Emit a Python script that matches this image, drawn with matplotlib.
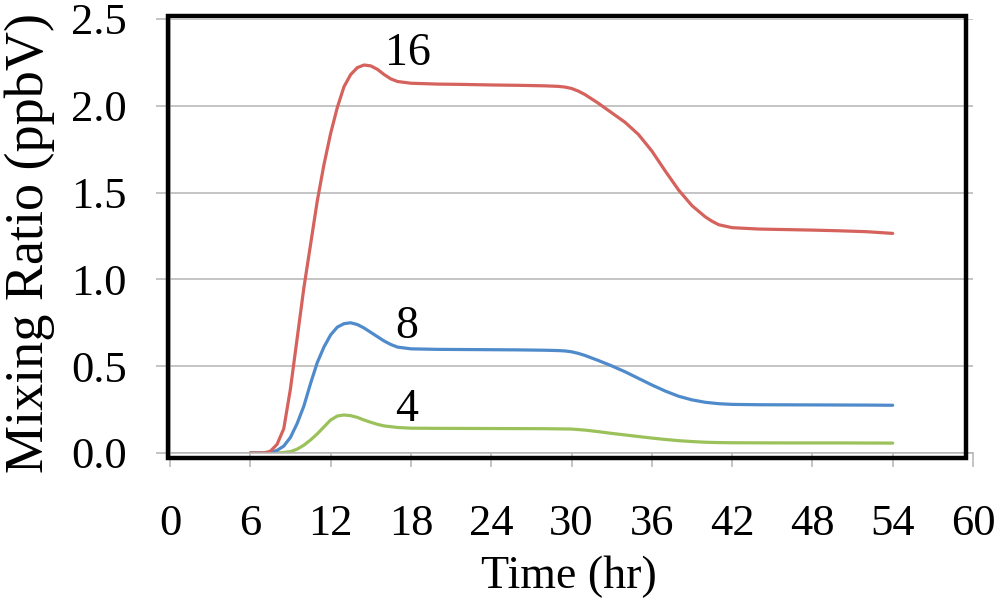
import matplotlib
matplotlib.use("Agg")
import matplotlib.pyplot as plt
from matplotlib.patches import Rectangle

# values (time in hr, mixing ratio in ppbV)
t_16 = [6, 7, 7.5, 8, 8.5, 9, 9.5, 10, 10.5, 11, 11.5, 12, 12.5, 13, 13.5, 14, 14.5, 15,
        15.5, 16, 16.5, 17, 18, 20, 22, 24, 26, 28, 29, 29.5, 30, 30.5, 31, 32, 33, 34,
        35, 36, 37, 38, 39, 40, 40.5, 41, 42, 44, 46, 48, 50, 52, 53, 54]
v_16 = [0.0, 0.0, 0.01, 0.05, 0.14, 0.37, 0.66, 0.95, 1.2, 1.45, 1.66, 1.84, 1.99, 2.11,
        2.18, 2.22, 2.235, 2.23, 2.21, 2.18, 2.155, 2.14, 2.13, 2.125, 2.123, 2.12, 2.118,
        2.115, 2.112, 2.108, 2.10, 2.085, 2.065, 2.015, 1.96, 1.905, 1.835, 1.74, 1.625,
        1.515, 1.425, 1.36, 1.335, 1.315, 1.298, 1.29, 1.287, 1.284, 1.28, 1.275, 1.27,
        1.265]

t_8 = [6, 7, 7.5, 8, 8.5, 9, 9.5, 10, 10.5, 11, 11.5, 12, 12.5, 13, 13.5, 14, 14.5, 15,
       15.5, 16, 16.5, 17, 18, 20, 22, 24, 26, 28, 29, 29.5, 30, 30.5, 31, 32, 33, 34, 35,
       36, 37, 38, 39, 40, 41, 42, 44, 48, 52, 54]
v_8 = [0.0, 0.0, 0.003, 0.015, 0.04, 0.09, 0.17, 0.27, 0.40, 0.52, 0.61, 0.68, 0.725,
       0.745, 0.75, 0.74, 0.72, 0.695, 0.67, 0.645, 0.625, 0.61, 0.60, 0.597, 0.596, 0.595,
       0.594, 0.592, 0.59, 0.588, 0.583, 0.574, 0.562, 0.533, 0.502, 0.468, 0.43, 0.392,
       0.357, 0.327, 0.306, 0.292, 0.284, 0.28, 0.278, 0.277, 0.276, 0.275]

t_4 = [6, 8, 8.5, 9, 9.5, 10, 10.5, 11, 11.5, 12, 12.5, 13, 13.5, 14, 14.5, 15, 15.5, 16,
       17, 18, 20, 24, 28, 30, 31, 32, 33, 34, 35, 36, 37, 38, 39, 40, 41, 42, 46, 50, 54]
v_4 = [0.0, 0.0, 0.003, 0.008, 0.022, 0.045, 0.075, 0.11, 0.15, 0.19, 0.213, 0.219, 0.215,
       0.205, 0.19, 0.177, 0.165, 0.156, 0.147, 0.143, 0.142, 0.141, 0.14, 0.138, 0.132,
       0.123, 0.113, 0.104, 0.095, 0.086, 0.078, 0.071, 0.066, 0.062, 0.06, 0.059, 0.058,
       0.058, 0.057]

x_ticks = [0, 6, 12, 18, 24, 30, 36, 42, 48, 54, 60]
y_ticks = [0.0, 0.5, 1.0, 1.5, 2.0, 2.5]

labels = ["16", "8", "4"]
label_pos = [(17.8, 2.30), (17.7, 0.725), (17.7, 0.25)]

RED = "#D5625C"
BLUE = "#4F8ACB"
GREEN = "#9BC25A"
GRID = "#B4B4B4"

plt.rcParams["font.family"] = ["Liberation Serif", "DejaVu Serif"]

W, H = 1000, 606
fig = plt.figure(figsize=(W / 100, H / 100), dpi=100)
ax = fig.add_axes([170 / W, 1 - 453 / H, 803 / W, 434 / H])

ax.plot(t_4, v_4, color=GREEN, lw=2.3, solid_capstyle="round", solid_joinstyle="round")
ax.plot(t_8, v_8, color=BLUE, lw=2.3, solid_capstyle="round", solid_joinstyle="round")
ax.plot(t_16, v_16, color=RED, lw=2.3, solid_capstyle="round", solid_joinstyle="round")

for txt, (tx, ty) in zip(labels, label_pos):
    ax.text(tx, ty, txt, fontsize=33, ha="center", va="center")

ax.set_xlim(0, 60)
ax.set_ylim(0, 2.5)
ax.set_xticks(x_ticks)
ax.set_yticks(y_ticks)
ax.set_yticklabels([f"{v:.1f}" for v in y_ticks])
ax.grid(axis="y", color=GRID, lw=1.1)
ax.set_axisbelow(True)

for side in ["top", "right"]:
    ax.spines[side].set_visible(False)
for side in ["left", "bottom"]:
    ax.spines[side].set_color(GRID)
    ax.spines[side].set_linewidth(1.1)

ax.tick_params(axis="x", direction="out", length=10, width=1.1, color=GRID,
               labelsize=32, pad=27)
ax.tick_params(axis="y", direction="out", length=10, width=1.1, color=GRID,
               labelsize=32, pad=21)

fig.text(30 / W, 1 - 243 / H, "Mixing Ratio (ppbV)", rotation=90, fontsize=39,
         ha="center", va="center")
fig.text(569 / W, 1 - 577 / H, "Time (hr)", fontsize=33, ha="center", va="center")

# plot area border like the original
fig.patches.append(Rectangle((168 / W, 1 - 458 / H), 798 / W, 442 / H,
                             transform=fig.transFigure, fill=False,
                             edgecolor="black", lw=3.2, zorder=10))

fig.savefig("out.png", dpi=100)
